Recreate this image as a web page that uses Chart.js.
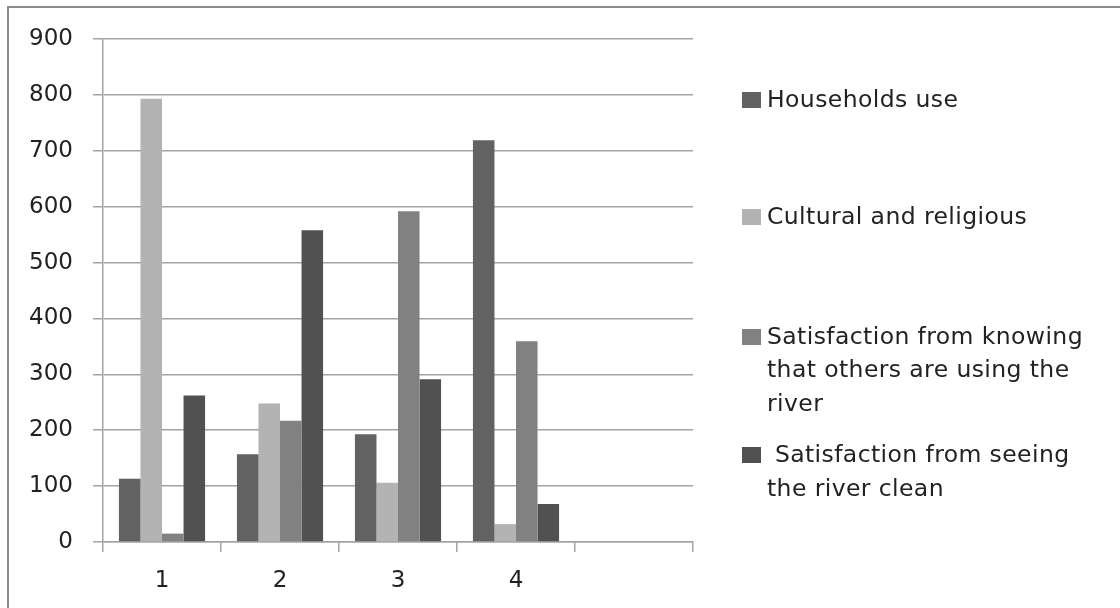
<!DOCTYPE html>
<html>
<head>
<meta charset="utf-8">
<script src="https://cdn.jsdelivr.net/npm/chart.js@4/dist/chart.umd.min.js"></script>
<style>
  html, body { margin: 0; padding: 0; background: #ffffff; }
  #wrap { position: relative; width: 1120px; height: 608px; overflow: hidden; background: #ffffff; }
  #frame { position: absolute; left: 7px; top: 6px; width: 1200px; height: 700px;
           border-top: 2px solid #8c8c8c; border-left: 2px solid #8c8c8c; box-sizing: border-box; }
  canvas { position: absolute; left: 0; top: 0; }
  .leg { position: absolute; left: 742px; width: 360px; font-family: "DejaVu Sans", sans-serif;
         font-size: 23.5px; line-height: 33.5px; color: #222222; letter-spacing: 0.4px; }
  .leg .sw { position: absolute; left: 0; width: 19px; height: 16px; }
  .leg .tx { position: absolute; left: 25px; width: 326px; white-space: pre-wrap; }
</style>
</head>
<body>
<div id="wrap">
  <div id="frame"></div>
  <canvas id="c" width="1120" height="608"></canvas>
  <div id="legend"></div>
</div>
<script>
// Survey groups along the x axis (the fifth slot is left empty)
const categories = ['1', '2', '3', '4', ''];

// Series values per group
const householdsUse = [113, 157, 193, 719, null];
const culturalReligious = [793, 248, 106, 32, null];
const othersUsingRiver = [15, 217, 592, 359, null];
const riverClean = [262, 558, 291, 68, null];

// Series names
const seriesNames = [
  'Households use',
  'Cultural and religious',
  'Satisfaction from knowing that others are using the river',
  ' Satisfaction from seeing the river clean'
];

// Value axis ticks
const yTicks = [0, 100, 200, 300, 400, 500, 600, 700, 800, 900];

const colors = ['#626262', '#b3b3b3', '#818181', '#515151'];
const gridColor = '#a3a3a3';
const font = { family: '"DejaVu Sans", sans-serif', size: 23 };

const seriesValues = [householdsUse, culturalReligious, othersUsingRiver, riverClean];

const chart = new Chart(document.getElementById('c'), {
  type: 'bar',
  data: {
    labels: categories,
    datasets: seriesValues.map((vals, i) => ({
      label: seriesNames[i],
      data: vals,
      backgroundColor: colors[i],
      borderWidth: 0,
      categoryPercentage: 0.73,
      barPercentage: 1.0
    }))
  },
  options: {
    responsive: false,
    animation: false,
    devicePixelRatio: 1,
    layout: { padding: { top: 39, right: 427, left: 0, bottom: 0 } },
    plugins: { legend: { display: false }, tooltip: { enabled: false } },
    scales: {
      x: {
        grid: { offset: true, drawOnChartArea: false, drawTicks: true, tickLength: 10,
                color: gridColor, lineWidth: 1.5 },
        border: { color: gridColor, width: 1.5 },
        ticks: { color: '#222222', font: font, padding: 15, maxRotation: 0 },
        afterFit: (s) => { s.height = 66; }
      },
      y: {
        min: 0, max: 900,
        afterBuildTicks: (s) => { s.ticks = yTicks.map(v => ({ value: v })); },
        grid: { color: gridColor, lineWidth: 1.5, tickLength: 10 },
        border: { color: gridColor, width: 1.5 },
        ticks: { color: '#222222', font: font, padding: 20 },
        afterFit: (s) => { s.width = 103; }
      }
    }
  }
});

// Legend placed to the right of the plot, built from the chart's datasets
const legendTops = [99.5, 216.7, 336.5, 455];
const legendEl = document.getElementById('legend');
chart.data.datasets.forEach((ds, i) => {
  const item = document.createElement('div');
  item.className = 'leg';
  item.style.top = (legendTops[i] - 16.75) + 'px';
  const sw = document.createElement('div');
  sw.className = 'sw';
  sw.style.background = ds.backgroundColor;
  sw.style.top = '9px';
  const tx = document.createElement('div');
  tx.className = 'tx';
  tx.textContent = ds.label;
  item.appendChild(sw);
  item.appendChild(tx);
  legendEl.appendChild(item);
});
</script>
</body>
</html>
